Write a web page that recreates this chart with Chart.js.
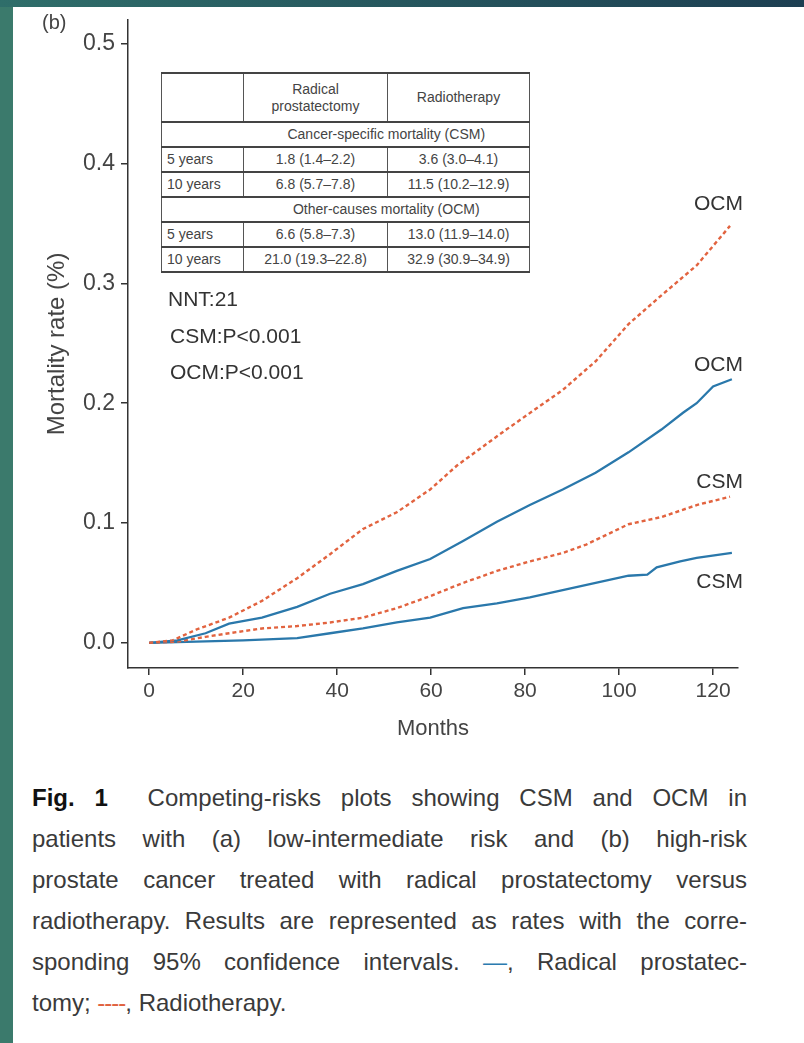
<!DOCTYPE html>
<html>
<head>
<meta charset="utf-8">
<script src="https://cdn.jsdelivr.net/npm/chart.js@4.4.1/dist/chart.umd.min.js"></script>
<style>
  html, body { margin: 0; padding: 0; }
  body {
    width: 804px; height: 1043px; overflow: hidden; position: relative;
    background: #3b7a6c;
    font-family: "Liberation Sans", Arial, sans-serif;
  }
  #topbar { position: absolute; left: 0; top: 0; width: 804px; height: 7px;
    background: linear-gradient(to right, #2f6e6a, #1d3f52); }
  #panel { position: absolute; left: 13px; top: 7px; right: 0; bottom: 0; background: #fff; }
  #chartBox { position: absolute; left: 0; top: 0; width: 804px; height: 760px; }
  .txt { position: absolute; color: #333; white-space: nowrap; line-height: 1; }
  #tbl { position: absolute; left: 161px; top: 72px; width: 368px; border-collapse: collapse;
    color: #444; font-size: 14px; table-layout: fixed; background: #fff; }
  #tbl td { border-left: 1px solid #555; border-right: 1px solid #555;
    border-top: 2px solid #444; border-bottom: 2px solid #444;
    padding: 0 3px; height: 23px; text-align: center; line-height: 1.15; }
  #tbl td.c1 { text-align: left; padding-left: 5px; }
  #tbl tr.head td { height: 47px; }
  #tbl td.nob { border-right: none; }
  #tbl td.sec { border-left: none; }
  #caption { position: absolute; left: 32px; top: 783px; width: 715px; color: #3a3a3a; font-size: 24px; }
  #caption div { text-align: justify; text-align-last: justify; height: 41px; line-height: 30px; white-space: nowrap; }
  #caption b { color: #111; }
</style>
</head>
<body>
<div id="topbar"></div>
<div id="panel"></div>
<div id="chartBox"><canvas id="chart" width="804" height="760"></canvas></div>

<div class="txt" style="left:42px; top:12px; font-size:20px; color:#444;">(b)</div>
<table id="tbl"></table>
<div class="txt" style="left:168px; top:288px; font-size:21px;">NNT:21</div>
<div class="txt" style="left:170px; top:325px; font-size:21px;">CSM:P&lt;0.001</div>
<div class="txt" style="left:170px; top:361px; font-size:21px;">OCM:P&lt;0.001</div>
<div class="txt" style="right:61px; top:192px; font-size:21px;">OCM</div>
<div class="txt" style="right:61px; top:353px; font-size:21px;">OCM</div>
<div class="txt" style="right:61px; top:470px; font-size:21px;">CSM</div>
<div class="txt" style="right:61px; top:570px; font-size:21px;">CSM</div>

<div id="caption">
  <div><b>Fig. 1</b>&nbsp; Competing-risks plots showing CSM and OCM in</div>
  <div>patients with (a) low-intermediate risk and (b) high-risk</div>
  <div>prostate cancer treated with radical prostatectomy versus</div>
  <div>radiotherapy. Results are represented as rates with the corre-</div>
  <div>sponding 95% confidence intervals. <span style="color:#2b7bb0">—</span>, Radical prostatec-</div>
  <div style="text-align:left; text-align-last:left;">tomy; <span style="color:#e0623f; letter-spacing:-1px;">----</span>, Radiotherapy.</div>
</div>

<script>
// curves (months, mortality rate)
const rtOcmX = [0, 5, 10, 17, 24, 31.5, 38.5, 45.5, 52.7, 59.8, 65.5, 76, 88, 95, 102, 109, 116.5, 123.6];
const rtOcmY = [0, 0.002, 0.011, 0.021, 0.035, 0.054, 0.074, 0.095, 0.109, 0.128, 0.148, 0.178, 0.211, 0.235, 0.266, 0.29, 0.315, 0.348];

const rpOcmX = [0, 6, 12, 17, 24, 31.5, 38.5, 45.5, 52.7, 59.8, 66.8, 74, 81, 88, 95, 102, 109, 113.6, 116.5, 120, 124];
const rpOcmY = [0, 0.002, 0.008, 0.016, 0.021, 0.030, 0.041, 0.049, 0.060, 0.070, 0.085, 0.101, 0.115, 0.128, 0.142, 0.159, 0.178, 0.192, 0.2, 0.214, 0.22];

const rtCsmX = [0, 6, 12, 17, 24, 31.5, 38.5, 45.5, 52.7, 59.8, 66.8, 74, 81, 88, 93, 102, 109, 116.5, 123.6];
const rtCsmY = [0, 0.001, 0.005, 0.008, 0.012, 0.014, 0.017, 0.021, 0.029, 0.039, 0.050, 0.060, 0.068, 0.075, 0.082, 0.099, 0.105, 0.115, 0.122];

const rpCsmX = [0, 10, 20, 31.5, 38.5, 45.5, 52.7, 59.8, 66.8, 74, 81, 88, 95, 102, 106, 108, 113, 116.5, 124];
const rpCsmY = [0, 0.001, 0.002, 0.004, 0.008, 0.012, 0.017, 0.021, 0.029, 0.033, 0.038, 0.044, 0.050, 0.056, 0.057, 0.063, 0.068, 0.071, 0.075];

const xTicks = [0, 20, 40, 60, 80, 100, 120];
const yTicks = [0, 0.1, 0.2, 0.3, 0.4, 0.5];

// inset table
const tableHead = ['', 'Radical<br>prostatectomy', 'Radiotherapy'];
const tableRows = [
  ['section', 'Cancer-specific mortality (CSM)'],
  ['5 years', '1.8 (1.4–2.2)', '3.6 (3.0–4.1)'],
  ['10 years', '6.8 (5.7–7.8)', '11.5 (10.2–12.9)'],
  ['section', 'Other-causes mortality (OCM)'],
  ['5 years', '6.6 (5.8–7.3)', '13.0 (11.9–14.0)'],
  ['10 years', '21.0 (19.3–22.8)', '32.9 (30.9–34.9)']
];

const tbl = document.getElementById('tbl');
let html = '<colgroup><col style="width:82px"><col style="width:144px"><col style="width:142px"></colgroup>';
html += '<tr class="head"><td class="c1"></td><td>' + tableHead[1] + '</td><td>' + tableHead[2] + '</td></tr>';
tableRows.forEach(r => {
  if (r[0] === 'section') {
    html += '<tr><td class="c1 nob"></td><td class="sec" colspan="2">' + r[1] + '</td></tr>';
  } else {
    html += '<tr><td class="c1">' + r[0] + '</td><td>' + r[1] + '</td><td>' + r[2] + '</td></tr>';
  }
});
tbl.innerHTML = html;

function pts(xs, ys) {
  return xs.map((x, i) => ({ x: x, y: ys[i] }));
}

const blue = '#2a78ab';
const red = '#e2633f';
const axisFont = 'Liberation Sans';

const ctx = document.getElementById('chart').getContext('2d');
new Chart(ctx, {
  type: 'line',
  data: {
    datasets: [
      { label: 'Radiotherapy OCM', data: pts(rtOcmX, rtOcmY), borderColor: red, borderWidth: 2.4, borderDash: [4, 3] },
      { label: 'Radical prostatectomy OCM', data: pts(rpOcmX, rpOcmY), borderColor: blue, borderWidth: 2.3 },
      { label: 'Radiotherapy CSM', data: pts(rtCsmX, rtCsmY), borderColor: red, borderWidth: 2.4, borderDash: [4, 3] },
      { label: 'Radical prostatectomy CSM', data: pts(rpCsmX, rpCsmY), borderColor: blue, borderWidth: 2.3 }
    ]
  },
  options: {
    responsive: false,
    animation: false,
    devicePixelRatio: 1,
    layout: { padding: { left: 0, top: 13, right: 66, bottom: 0 } },
    elements: { point: { radius: 0 }, line: { tension: 0 } },
    plugins: { legend: { display: false }, tooltip: { enabled: false } },
    scales: {
      x: {
        type: 'linear',
        min: -4.5,
        max: 125.3,
        afterFit: s => { s.height = 92; },
        afterBuildTicks: s => { s.ticks = xTicks.map(v => ({ value: v })); },
        border: { display: true, color: '#333', width: 1.5 },
        grid: { drawOnChartArea: false, drawTicks: true, tickLength: 7, color: '#333', lineWidth: 1.5 },
        ticks: { padding: 4, color: '#444', font: { family: axisFont, size: 21 }, maxRotation: 0 },
        title: { display: true, text: 'Months', color: '#444', padding: { top: 0, bottom: 18 },
          font: { family: axisFont, size: 22 } }
      },
      y: {
        type: 'linear',
        min: -0.021,
        max: 0.52,
        afterFit: s => { s.width = 128; },
        afterBuildTicks: s => { s.ticks = yTicks.map(v => ({ value: v })); },
        border: { display: true, color: '#333', width: 1.5 },
        grid: { drawOnChartArea: false, drawTicks: true, tickLength: 7, color: '#333', lineWidth: 1.5 },
        ticks: { padding: 6, color: '#444', font: { family: axisFont, size: 23 },
          callback: v => v.toFixed(1) },
        title: { display: true, text: 'Mortality rate (%)', color: '#444', padding: { top: 43, bottom: 0 },
          font: { family: axisFont, size: 24 } }
      }
    }
  }
});
</script>
</body>
</html>
